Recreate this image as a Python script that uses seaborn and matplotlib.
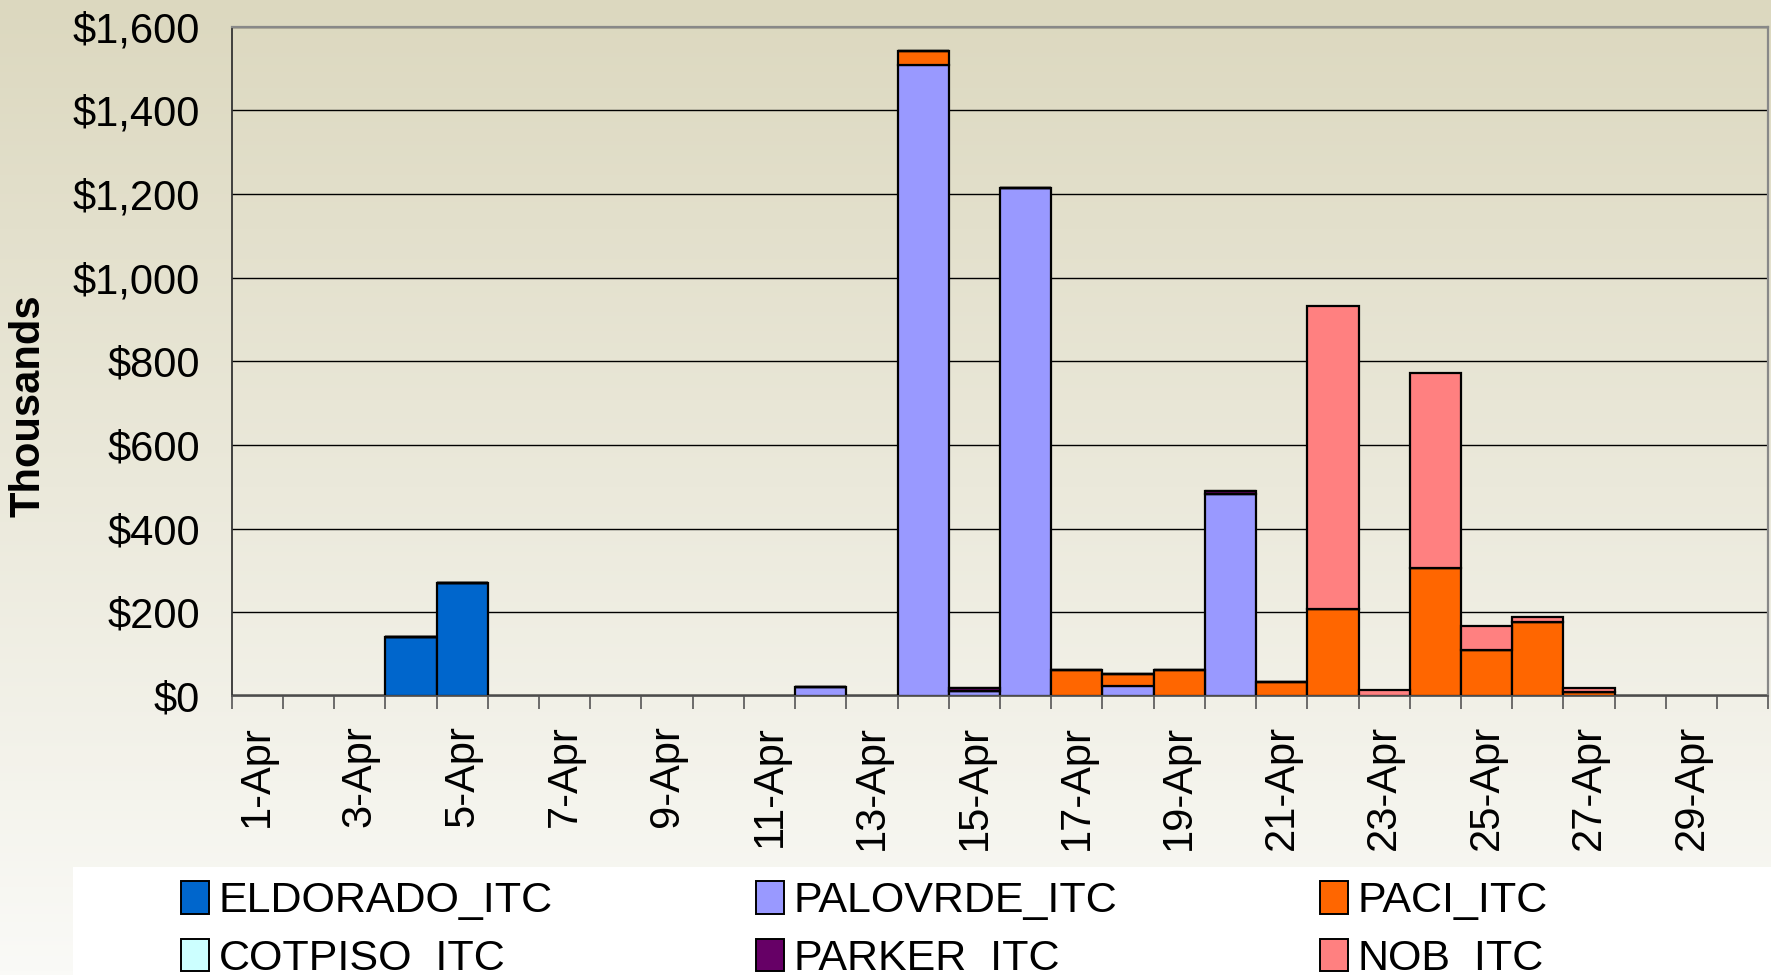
import matplotlib
matplotlib.use("Agg")
import matplotlib.pyplot as plt
from matplotlib.patches import Patch, Rectangle
from matplotlib.ticker import FuncFormatter, FixedLocator
import numpy as np
import pandas as pd
import seaborn as sns

# daily values, thousands of dollars (1-Apr .. 30-Apr)
days = list(range(1, 31))
eldorado = [0, 0, 0, 140, 270, 0, 0, 0, 0, 0, 0, 0, 0, 0, 0,
            0, 0, 0, 0, 0, 0, 0, 0, 0, 0, 0, 0, 0, 0, 0]
palovrde = [0, 0, 0, 0, 0, 0, 0, 0, 0, 0, 0, 22, 0, 1508, 11,
            1215, 0, 25, 0, 484, 0, 0, 0, 0, 0, 0, 0, 0, 0, 0]
paci = [0, 0, 0, 0, 0, 0, 0, 0, 0, 0, 0, 0, 0, 33, 0,
        0, 62, 28, 62, 0, 33, 209, 0, 307, 110, 177, 9, 0, 0, 0]
cotpiso = [0] * 30
parker = [0, 0, 0, 0, 0, 0, 0, 0, 0, 0, 0, 0, 0, 0, 7,
          0, 0, 0, 0, 6, 0, 0, 0, 0, 0, 0, 0, 0, 0, 0]
nob = [0, 0, 0, 0, 0, 0, 0, 0, 0, 0, 0, 0, 0, 0, 0,
       0, 0, 0, 0, 0, 0, 723, 14, 466, 58, 13, 10, 0, 0, 0]

series_names = ["ELDORADO_ITC", "PALOVRDE_ITC", "PACI_ITC",
                "COTPISO_ITC", "PARKER_ITC", "NOB_ITC"]
series_vals = [eldorado, palovrde, paci, cotpiso, parker, nob]
colors = ["#0066CC", "#9999FF", "#FF6600", "#CCFFFF", "#660066", "#FF8080"]
tick_days = list(range(1, 30, 2))
tick_labels = [f"{d}-Apr" for d in tick_days]

rows = []
for name, vals in zip(series_names, series_vals):
    for d, v in zip(days, vals):
        rows.append({"day": d, "series": name, "value": v})
df = pd.DataFrame(rows)
palette = dict(zip(series_names, colors))

plt.rcParams["font.family"] = ["Liberation Sans", "DejaVu Sans"]

W, H = 1771, 975
fig = plt.figure(figsize=(W / 100, H / 100), dpi=100)

# background gradient
bg = fig.add_axes([0, 0, 1, 1], zorder=-10)
top = np.array([220, 216, 191]) / 255
bot = np.array([250, 250, 247]) / 255
t = np.linspace(0, 1, 256)[:, None]
grad = (top[None, :] * (1 - t) + bot[None, :] * t)[:, None, :]
bg.imshow(grad, aspect="auto", extent=[0, 1, 0, 1])
bg.axis("off")

# white legend panel
fig.patches.append(Rectangle((73 / W, 0), 1 - 73 / W, (H - 867) / H,
                             transform=fig.transFigure, facecolor="white",
                             edgecolor="none", zorder=-5))

ax = fig.add_axes([231.7 / W, 1 - 696 / H, (1768.3 - 231.7) / W, (696 - 26.7) / H])
ax.set_facecolor("none")

sns.histplot(data=df, x="day", weights="value", hue="series",
             hue_order=series_names[::-1], palette=palette,
             multiple="stack", discrete=True, shrink=1, alpha=1,
             edgecolor="black", linewidth=1.6, legend=False, ax=ax)

ax.set_xlim(0.5, 30.5)
ax.set_ylim(0, 1600)
ax.set_yticks(range(0, 1601, 200))
ax.yaxis.set_major_formatter(FuncFormatter(lambda v, p: f"${v:,.0f}"))
ax.set_axisbelow(True)
ax.yaxis.grid(True, color="black", linewidth=1.0)
ax.xaxis.grid(False)

ax.set_xticks(tick_days)
ax.set_xticklabels(tick_labels, rotation=90)
ax.xaxis.set_minor_locator(FixedLocator(np.arange(0.5, 31, 1)))
ax.tick_params(axis="x", which="major", length=0, pad=21, labelsize=30)
ax.tick_params(axis="x", which="minor", length=9.5, width=1.2, color="#555555")
ax.tick_params(axis="y", length=0, pad=23, labelsize=30)

ax.set_xlabel("")
ax.set_ylabel("")
for side in ["top", "right"]:
    ax.spines[side].set_color("#888888")
    ax.spines[side].set_linewidth(1.6)
ax.spines["left"].set_color("#333333")
ax.spines["left"].set_linewidth(1.3)
ax.spines["bottom"].set_color("#555555")
ax.spines["bottom"].set_linewidth(1.3)

fig.text(29 / W, 1 - 406 / H, "Thousands", rotation=90, ha="center",
         va="center", fontsize=30, fontweight="bold")

# legend, filled column-wise: 3 columns x 2 rows
handles = [Patch(facecolor=c, edgecolor="black", linewidth=1.4) for c in colors]
order = [0, 3, 1, 4, 2, 5]
fig.legend([handles[i] for i in order], [series_names[i] for i in order],
           ncol=3, loc="upper left", bbox_to_anchor=(181 / W, 1 - 881 / H),
           frameon=False, fontsize=31, handlelength=0.65, handleheight=0.79,
           handletextpad=0.22, columnspacing=4.72, labelspacing=0.4,
           borderpad=0, borderaxespad=0)

fig.savefig("out.png", dpi=100)
